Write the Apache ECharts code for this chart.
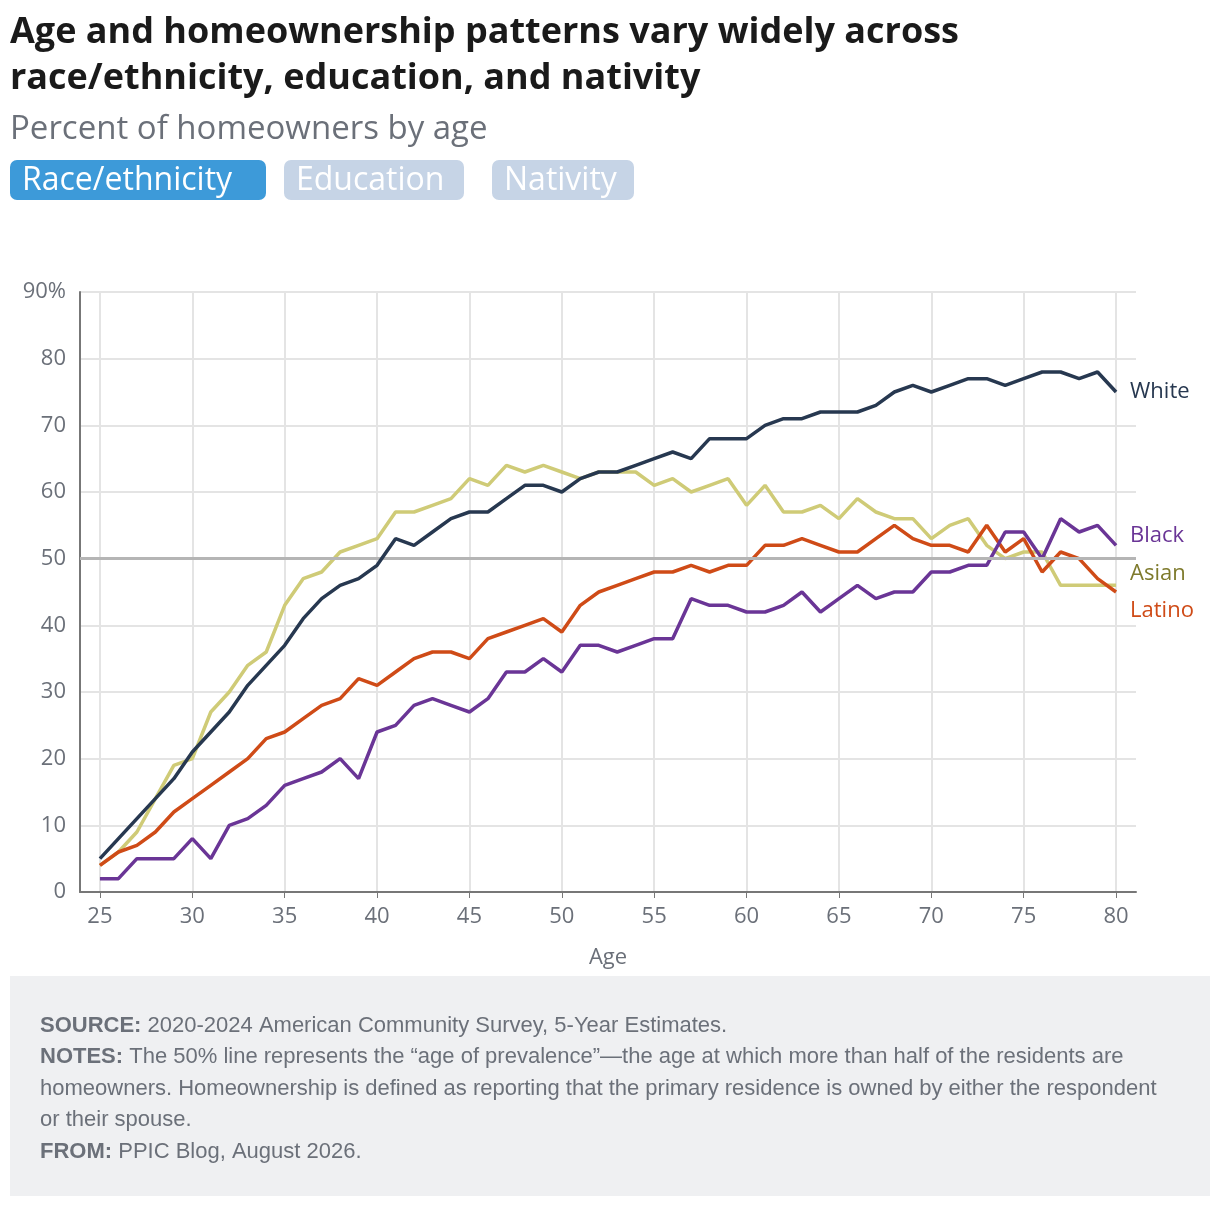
<!DOCTYPE html>
<html><head><meta charset="utf-8">
<script src="https://cdn.jsdelivr.net/npm/echarts@6/dist/echarts.min.js"></script>
<style>html,body{margin:0;padding:0;background:#fff}#c{width:1220px;height:1206px}</style>
</head><body><div id="c"></div>
<script>
const ages = [];
for (let a = 25; a <= 80; a++) ages.push(a);
const xTicks = [25,30,35,40,45,50,55,60,65,70,75,80];
const white = [5,8,11,14,17,21,24,27,31,34,37,41,44,46,47,49,53,52,54,56,57,57,59,61,61,60,62,63,63,64,65,66,65,68,68,68,70,71,71,72,72,72,73,75,76,75,76,77,77,76,77,78,78,77,78,75];
const asian = [4,6,9,14,19,20,27,30,34,36,43,47,48,51,52,53,57,57,58,59,62,61,64,63,64,63,62,63,63,63,61,62,60,61,62,58,61,57,57,58,56,59,57,56,56,53,55,56,52,50,51,51,46,46,46,46];
const latino = [4,6,7,9,12,14,16,18,20,23,24,26,28,29,32,31,33,35,36,36,35,38,39,40,41,39,43,45,46,47,48,48,49,48,49,49,52,52,53,52,51,51,53,55,53,52,52,51,55,51,53,48,51,50,47,45];
const black = [2,2,5,5,5,8,5,10,11,13,16,17,18,20,17,24,25,28,29,28,27,29,33,33,35,33,37,37,36,37,38,38,44,43,43,42,42,43,45,42,44,46,44,45,45,48,48,49,49,54,54,50,56,54,55,52];

const font = '"Open Sans", Lato, sans-serif';
const foot = '"Liberation Sans", Arial, sans-serif';
function mk(name, vals, color, labelColor, off) {
  return {
    name, type: 'line', data: vals.map((v,i)=>[ages[i], v]), symbol: 'none',
    lineStyle: {color, width: 3.5}, itemStyle:{color}, z: name==='White'?5:3,
    endLabel: {show: true, formatter: name, color: labelColor, fontSize: 22, fontFamily: font, offset:[14, off], distance: 0}
  };
}
function btn(label, x, w, fill) {
  return [
    {type:'rect', shape:{x, y:160, width:w, height:40, r:7}, style:{fill}},
    {type:'text', style:{x: x+12, y: 181, text: label, font:'32px '+font, fill:'#fff', verticalAlign:'middle'}}
  ];
}
const chart = echarts.init(document.getElementById('c'));
chart.setOption({
  animation: false,
  grid: {left: 80, right: 84, top: 292, bottom: 314},
  xAxis: {
    type: 'value', min: 23.92, max: 81.08,
    name: 'Age', nameLocation: 'middle', nameGap: 55, nameTextStyle: {color:'#6b7079', fontSize: 22, fontFamily: font},
    axisLine: {show: true, lineStyle: {color: '#777', width: 2}},
    axisTick: {show: true, customValues: xTicks, length: 6, lineStyle:{color:'#777'}},
    axisLabel: {customValues: xTicks, color: '#6b7079', fontSize: 22, fontFamily: font, margin: 14},
    splitLine: {show: true, lineStyle: {color: '#e4e4e4', width: 2}}
  },
  yAxis: {
    type: 'value', min: 0, max: 90, interval: 10,
    axisLine: {show: true, lineStyle: {color: '#777', width: 2}},
    axisTick: {show: false},
    axisLabel: {color: '#6b7079', fontSize: 22, fontFamily: font, margin: 14, formatter: v => v===90 ? '90%' : String(v)},
    splitLine: {lineStyle: {color: '#e4e4e4', width: 2}}
  },
  series: [
    mk('White', white, '#273850', '#273850', 0),
    mk('Asian', asian, '#cfcb77', '#7e7a2c', -12),
    mk('Latino', latino, '#cf4b17', '#cf4b17', 19),
    Object.assign(mk('Black', black, '#6a3596', '#6a3596', -10), {
      markLine: {silent: true, symbol: 'none', label:{show:false}, lineStyle:{color:'#b5b5b5', width:3, type:'solid'}, data:[{yAxis:50}]}
    })
  ],
  graphic: [
    {type:'text', left: 10, top: 10, style:{text:'Age and homeownership patterns vary widely across\nrace/ethnicity, education, and nativity', font:'bold 36px '+font, fill:'#1a1a1a', lineHeight: 46}},
    {type:'text', left: 10, top: 113, style:{text:'Percent of homeowners by age', font:'33px '+font, fill:'#6b7079'}},
    ...btn('Race/ethnicity', 10, 256, '#3d9ad9'),
    ...btn('Education', 284, 180, '#c6d4e6'),
    ...btn('Nativity', 492, 142, '#c6d4e6'),
    {type:'rect', shape:{x:10,y:976,width:1200,height:220}, style:{fill:'#eff0f2'}, z:-1},
    {type:'text', left: 40, top: 1010, style:{
      rich:{b:{font:'bold 22px '+foot, fill:'#6b7079'}, n:{font:'22px '+foot, fill:'#6b7079'}},
      text:'{b|SOURCE:}{n| 2020-2024 American Community Survey, 5-Year Estimates.}\n{b|NOTES:}{n| The 50% line represents the “age of prevalence”—the age at which more than half of the residents are}\n{n|homeowners. Homeownership is defined as reporting that the primary residence is owned by either the respondent}\n{n|or their spouse.}\n{b|FROM:}{n| PPIC Blog, August 2026.}',
      lineHeight: 31.5}}
  ]
});
</script></body></html>
